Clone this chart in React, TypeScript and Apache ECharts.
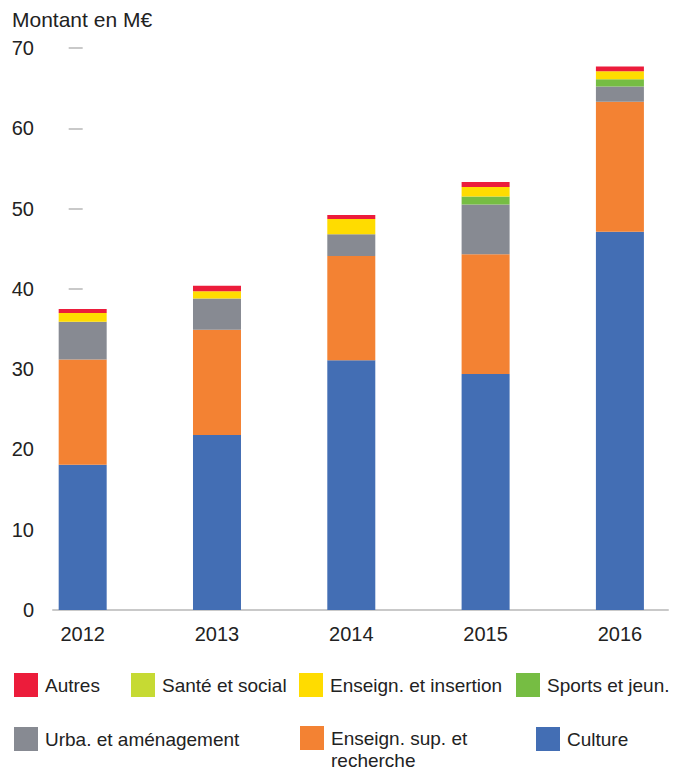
import React, { useEffect, useRef } from "react";
import * as echarts from "echarts";

const years = ["2012", "2013", "2014", "2015", "2016"];
const yTicks = [0, 10, 20, 30, 40, 50, 60, 70];

const culture = [18.1, 21.8, 31.1, 29.4, 47.1];
const enseignSup = [13.1, 13.1, 13.0, 14.9, 16.2];
const urba = [4.7, 3.9, 2.7, 6.2, 1.9];
const sports = [0, 0, 0, 1.0, 0.9];
const sante = [0, 0, 0, 0, 0];
const insertion = [1.1, 0.9, 1.9, 1.2, 1.0];
const autres = [0.5, 0.7, 0.5, 0.6, 0.6];

const seriesDefs = [
  { name: "Culture", data: culture, color: "#436EB4" },
  { name: "Enseign. sup. et recherche", data: enseignSup, color: "#F38233" },
  { name: "Urba. et aménagement", data: urba, color: "#878A92" },
  { name: "Sports et jeun.", data: sports, color: "#76BD43" },
  { name: "Santé et social", data: sante, color: "#C6DA33" },
  { name: "Enseign. et insertion", data: insertion, color: "#FFDC00" },
  { name: "Autres", data: autres, color: "#EC1C3B" },
];

const legendPos: { name: string; left: number; top: number }[] = [
  { name: "Autres", left: 14, top: 673 },
  { name: "Santé et social", left: 131, top: 673 },
  { name: "Enseign. et insertion", left: 299, top: 673 },
  { name: "Sports et jeun.", left: 516, top: 673 },
  { name: "Urba. et aménagement", left: 14, top: 727 },
  { name: "Enseign. sup. et recherche", left: 300, top: 705 },
  { name: "Culture", left: 536, top: 727 },
];

const FONT = "Liberation Sans";

export default function App() {
  const ref = useRef<HTMLDivElement>(null);
  useEffect(() => {
    if (!ref.current) return;
    const chart = echarts.init(ref.current, null, { renderer: "svg" });
    const option: any = {
      animation: false,
      textStyle: { fontFamily: FONT },
      title: {
        text: "Montant en M€",
        left: 12,
        top: 9,
        padding: 0,
        textStyle: { fontFamily: FONT, fontSize: 21, fontWeight: "normal", color: "#222" },
      },
      grid: { left: 53, right: 13, top: 48, bottom: 160, containLabel: false },
      xAxis: {
        type: "value",
        min: -0.221,
        max: 4.358,
        splitLine: { show: false },
        axisTick: { show: false },
        axisLine: { show: true, lineStyle: { color: "#c9c9c9", width: 2 } },
        axisLabel: {
          customValues: [0, 1, 2, 3, 4],
          formatter: (v: number) => years[Math.round(v)] ?? "",
          color: "#222",
          fontFamily: FONT,
          fontSize: 20,
          margin: 14,
        },
      },
      yAxis: {
        type: "value",
        min: 0,
        max: 70,
        interval: 10,
        splitLine: { show: false },
        axisLine: { show: false },
        axisTick: { show: true, length: 14, lineStyle: { color: "#c9c9c9", width: 2 } },
        axisLabel: {
          color: "#222",
          fontFamily: FONT,
          fontSize: 20,
          margin: 19,
          formatter: (v: number) => (yTicks.includes(v) ? String(v) : ""),
        },
      },
      legend: legendPos.map((l) => ({
        data: [l.name],
        left: l.left,
        top: l.top,
        padding: 0,
        itemWidth: 24,
        itemHeight: 24,
        icon: "rect",
        selectedMode: false,
        formatter: (n: string) =>
          n === "Enseign. sup. et recherche" ? "\u00a0\nEnseign. sup. et\nrecherche" : n,
        textStyle:
          l.name === "Enseign. sup. et recherche"
            ? { fontFamily: FONT, fontSize: 19, color: "#222", lineHeight: 22, padding: [0, 0, 0, 2] }
            : { fontFamily: FONT, fontSize: 19, color: "#222", padding: [0, 0, 0, 2] },
      })),
      series: seriesDefs.map((s) => ({
        name: s.name,
        type: "bar",
        stack: "total",
        barWidth: 48,
        encode: { x: 1, y: 0 },
        data: s.data.map((v, i) => [v, i]),
        itemStyle: { color: s.color },
        emphasis: { disabled: true },
      })),
    };
    chart.setOption(option);
    return () => chart.dispose();
  }, []);
  return (
    <div
      ref={ref}
      style={{ position: "fixed", left: 0, top: 0, width: 681, height: 770, background: "#fff" }}
    />
  );
}
